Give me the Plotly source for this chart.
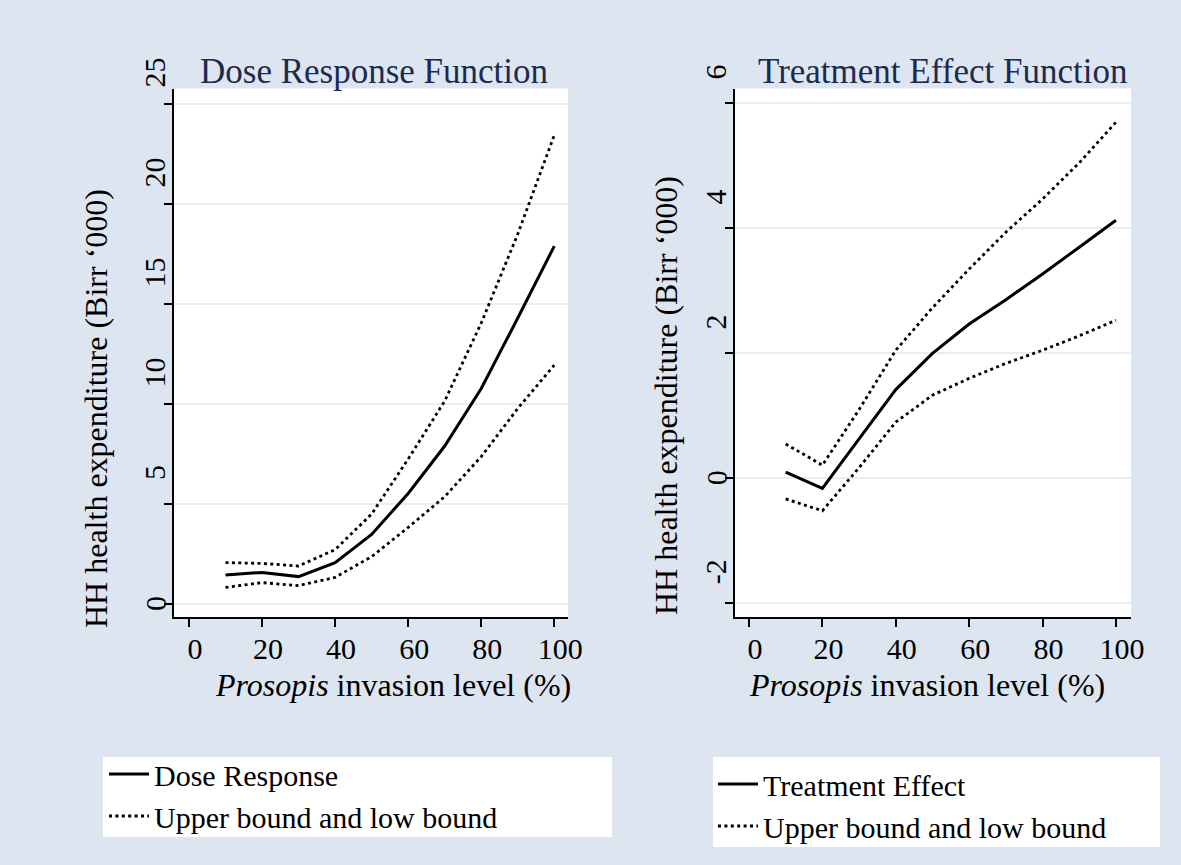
import plotly.graph_objects as go

# ---------------- data ----------------
invasion = [10, 20, 30, 40, 50, 60, 70, 80, 90, 100]

dose_response = [1.45, 1.58, 1.37, 2.07, 3.48, 5.53, 7.9, 10.78, 14.3, 17.9]
dose_upper = [2.07, 2.03, 1.9, 2.72, 4.5, 7.25, 10.15, 14.05, 18.5, 23.45]
dose_lower = [0.83, 1.07, 0.92, 1.33, 2.37, 3.83, 5.37, 7.37, 9.78, 11.95]

treat_effect = [0.1, -0.16, 0.63, 1.42, 2.0, 2.47, 2.86, 3.27, 3.7, 4.13]
treat_upper = [0.55, 0.21, 1.1, 2.05, 2.73, 3.35, 3.94, 4.47, 5.05, 5.7]
treat_lower = [-0.33, -0.52, 0.17, 0.9, 1.33, 1.6, 1.84, 2.05, 2.28, 2.53]

x_ticks = [0, 20, 40, 60, 80, 100]
dose_yticks = [0, 5, 10, 15, 20, 25]
treat_yticks = [-2, 0, 2, 4, 6]

left_title = "Dose Response Function"
right_title = "Treatment Effect Function"
y_title = "HH health expenditure (Birr \u2018000)"
x_title = "<i>Prosopis</i> invasion level (%)"

# ---------------- style ----------------
W, H = 1181, 865
FONT = "Liberation Serif, Times New Roman, serif"
BG = "#dde5f0"
GRID = "#e6eef0"
NAVY = "#1b2b50"

def px(xp):
    return xp / W

def py(yp):
    return 1 - yp / H

fig = go.Figure()

solid = dict(color="black", width=3)
dotted = dict(color="black", width=2.8, dash="3px,3.4px")

fig.add_trace(go.Scatter(x=invasion, y=dose_response, mode="lines", line=solid,
                         name="Dose Response", xaxis="x", yaxis="y", legend="legend"))
fig.add_trace(go.Scatter(x=invasion, y=dose_upper, mode="lines", line=dotted,
                         name="Upper bound and low bound", xaxis="x", yaxis="y", legend="legend"))
fig.add_trace(go.Scatter(x=invasion, y=dose_lower, mode="lines", line=dotted,
                         name="Lower bound", showlegend=False, xaxis="x", yaxis="y"))

fig.add_trace(go.Scatter(x=invasion, y=treat_effect, mode="lines", line=solid,
                         name="Treatment Effect", xaxis="x2", yaxis="y2", legend="legend2"))
fig.add_trace(go.Scatter(x=invasion, y=treat_upper, mode="lines", line=dotted,
                         name="Upper bound and low bound", xaxis="x2", yaxis="y2", legend="legend2"))
fig.add_trace(go.Scatter(x=invasion, y=treat_lower, mode="lines", line=dotted,
                         name="Lower bound", showlegend=False, xaxis="x2", yaxis="y2"))

# empty traces so the overlay axes carrying the "0" labels are drawn
fig.add_trace(go.Scatter(x=[], y=[], mode="lines", showlegend=False, hoverinfo="skip",
                         xaxis="x", yaxis="y3"))
fig.add_trace(go.Scatter(x=[], y=[], mode="lines", showlegend=False, hoverinfo="skip",
                         xaxis="x2", yaxis="y4"))

ydom = [py(617), py(88.5)]
tickfont = dict(family=FONT, size=30, color="black")

xcommon = dict(tickvals=x_ticks, ticks="outside", ticklen=8, tickwidth=1.5, tickcolor="black",
               showline=True, linecolor="black", linewidth=1.6, showgrid=False, zeroline=False,
               tickfont=tickfont, ticklabelshift=6, ticklabelstandoff=-4)
ycommon = dict(ticks="outside", ticklen=8, tickwidth=1.5, tickcolor="black",
               showline=True, linecolor="black", linewidth=1.6, showgrid=True,
               gridcolor=GRID, gridwidth=1.5, zeroline=False, tickfont=tickfont,
               tickangle=-90, ticklabelshift=-27, ticklabelstandoff=-13)
yzero = dict(ticks="outside", ticklen=8, tickcolor="rgba(0,0,0,0)", showline=False,
             showgrid=False, zeroline=False, tickfont=tickfont, tickangle=-90,
             tickvals=[0], ticktext=["0"], side="left", ticklabelstandoff=-13,
             ticklabelshift=4)

legend_font = dict(family=FONT, size=30, color="black")

fig.update_layout(
    width=W, height=H,
    margin=dict(l=0, r=0, t=0, b=0, autoexpand=False),
    paper_bgcolor=BG, plot_bgcolor="white",
    font=dict(family=FONT, color="black"),
    xaxis=dict(domain=[px(174), px(568)], range=[-4.1, 103.75], anchor="y", **xcommon),
    yaxis=dict(domain=ydom, range=[-0.65, 25.78], anchor="x", tickvals=dose_yticks,
               ticktext=["" if v == 0 else str(v) for v in dose_yticks], **ycommon),
    yaxis3=dict(domain=ydom, range=[-0.65, 25.78], anchor="x", overlaying="y", **yzero),
    xaxis2=dict(domain=[px(735), px(1131)], range=[-3.81, 104.1], anchor="y2", **xcommon),
    yaxis2=dict(domain=ydom, range=[-2.22, 6.24], anchor="x2", tickvals=treat_yticks,
                ticktext=["" if v == 0 else str(v) for v in treat_yticks], **ycommon),
    yaxis4=dict(domain=ydom, range=[-2.22, 6.24], anchor="x2", overlaying="y2", **yzero),
    legend=dict(xref="paper", yref="paper", x=px(104), y=py(748),
                xanchor="left", yanchor="top", bgcolor="rgba(0,0,0,0)",
                font=legend_font, tracegroupgap=0, itemwidth=40),
    legend2=dict(xref="paper", yref="paper", x=px(713), y=py(758),
                 xanchor="left", yanchor="top", bgcolor="rgba(0,0,0,0)",
                 font=legend_font, tracegroupgap=0, itemwidth=40),
    shapes=[
        dict(type="rect", xref="paper", yref="paper", x0=px(103), x1=px(612),
             y0=py(837), y1=py(757), fillcolor="white", line=dict(width=0), layer="below"),
        dict(type="rect", xref="paper", yref="paper", x0=px(713), x1=px(1160),
             y0=py(847), y1=py(757), fillcolor="white", line=dict(width=0), layer="below"),
    ],
    annotations=[
        dict(text=left_title, xref="paper", yref="paper", x=px(374), y=py(72),
             xanchor="center", yanchor="middle", showarrow=False,
             font=dict(family=FONT, size=35, color=NAVY)),
        dict(text=right_title, xref="paper", yref="paper", x=px(942), y=py(72),
             xanchor="center", yanchor="middle", showarrow=False,
             font=dict(family=FONT, size=35, color=NAVY)),
        dict(text=y_title, xref="paper", yref="paper", x=px(96), y=py(408),
             xanchor="center", yanchor="middle", showarrow=False, textangle=-90,
             font=dict(family=FONT, size=32, color="black")),
        dict(text=y_title, xref="paper", yref="paper", x=px(666), y=py(396),
             xanchor="center", yanchor="middle", showarrow=False, textangle=-90,
             font=dict(family=FONT, size=32, color="black")),
        dict(text=x_title, xref="paper", yref="paper", x=px(393), y=py(685),
             xanchor="center", yanchor="middle", showarrow=False,
             font=dict(family=FONT, size=32, color="black")),
        dict(text=x_title, xref="paper", yref="paper", x=px(927), y=py(685),
             xanchor="center", yanchor="middle", showarrow=False,
             font=dict(family=FONT, size=32, color="black")),
    ],
)

fig.write_html("out.html", config={"displayModeBar": False},
               post_script="document.body.style.margin='0';document.body.style.overflow='hidden';")
